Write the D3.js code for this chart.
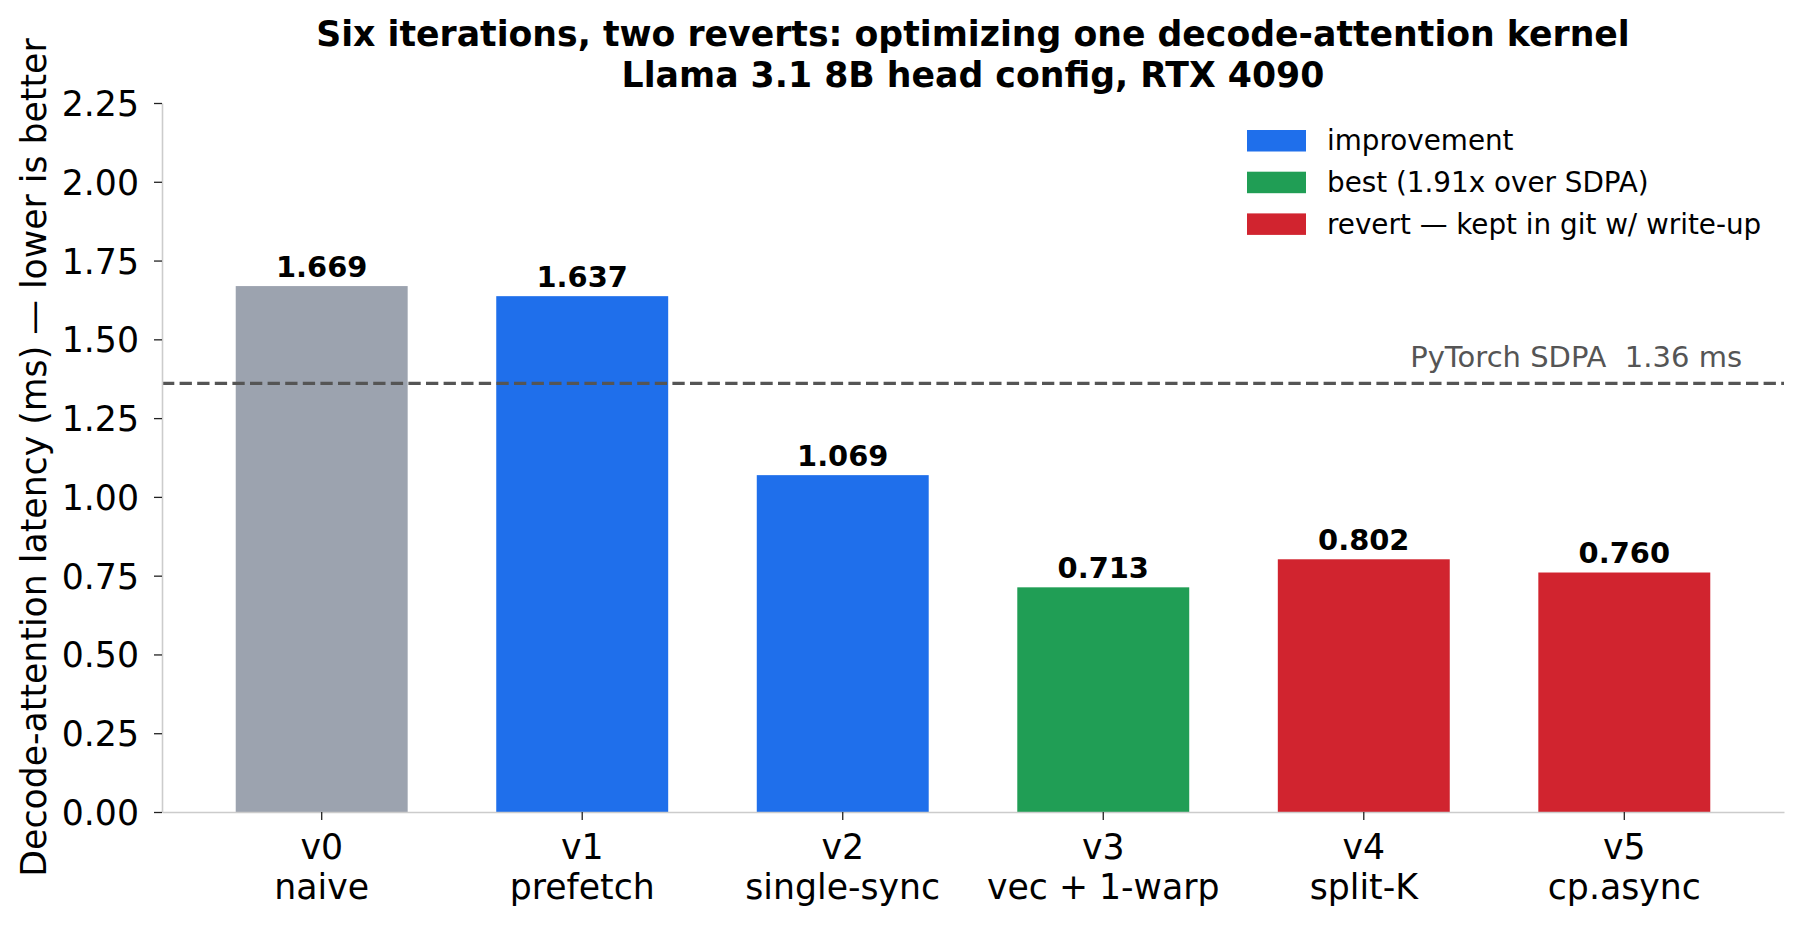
<!DOCTYPE html>
<html>
<head>
<meta charset="utf-8">
<script src="https://cdn.jsdelivr.net/npm/d3@7"></script>
<style>
  html, body { margin: 0; padding: 0; background: #fff; }
  svg { display: block; font-family: "DejaVu Sans", sans-serif; }
</style>
</head>
<body>
<main></main>
<script>
// chart data
const versions = ['v0', 'v1', 'v2', 'v3', 'v4', 'v5'];
const stepNames = ['naive', 'prefetch', 'single-sync', 'vec + 1-warp', 'split-K', 'cp.async'];
const latencyMs = [1.669, 1.637, 1.069, 0.713, 0.802, 0.760];
const kinds = ['baseline', 'improvement', 'improvement', 'best', 'revert', 'revert'];
const sdpaMs = 1.36;
const yTicks = [0, 0.25, 0.5, 0.75, 1.0, 1.25, 1.5, 1.75, 2.0, 2.25];
const legendKinds = ['improvement', 'best', 'revert'];
const legendLabels = ['improvement', 'best (1.91x over SDPA)', 'revert \u2014 kept in git w/ write-up'];
const titleLines = ['Six iterations, two reverts: optimizing one decode-attention kernel',
                    'Llama 3.1 8B head config, RTX 4090'];

const size = {width: 1804, height: 925};
const plot = {left: 162, right: 1784, top: 103, bottom: 812};

const colorOf = {
    baseline: '#9ca3af',
    improvement: '#1f6feb',
    best: '#209e55',
    revert: '#d1242f'
};

const svg = d3.select('main')
    .append('svg')
    .attr('width', size.width)
    .attr('height', size.height);

// scales
const x = d3.scaleBand()
    .domain(versions)
    .range([plot.left, plot.right])
    .paddingInner(0.34)
    .paddingOuter(0.283);

const y = d3.scaleLinear()
    .domain([0, 2.25])
    .range([plot.bottom, plot.top]);

// bars
svg.append('g')
    .selectAll('rect')
    .data(versions)
    .enter()
    .append('rect')
    .attr('x', d => x(d))
    .attr('width', x.bandwidth())
    .attr('y', (d, i) => y(latencyMs[i]))
    .attr('height', (d, i) => y(0) - y(latencyMs[i]))
    .attr('fill', (d, i) => colorOf[kinds[i]]);

// value labels above bars
svg.append('g')
    .selectAll('text')
    .data(versions)
    .enter()
    .append('text')
    .attr('x', d => x(d) + x.bandwidth() / 2)
    .attr('y', (d, i) => y(latencyMs[i]) - 9.5)
    .attr('text-anchor', 'middle')
    .attr('font-size', '28.9px')
    .attr('font-weight', 'bold')
    .attr('fill', '#000')
    .text((d, i) => d3.format('.3f')(latencyMs[i]));

// SDPA reference line
svg.append('line')
    .attr('x1', plot.left)
    .attr('x2', plot.right)
    .attr('y1', y(sdpaMs))
    .attr('y2', y(sdpaMs))
    .attr('stroke', '#555')
    .attr('stroke-width', 3.2)
    .attr('stroke-dasharray', '12.3,5.3');

svg.append('text')
    .attr('x', plot.right - 42)
    .attr('y', y(sdpaMs) - 16.7)
    .attr('text-anchor', 'end')
    .attr('font-size', '29px')
    .attr('fill', '#555')
    .attr('xml:space', 'preserve')
    .text('PyTorch SDPA  ' + sdpaMs.toFixed(2) + ' ms');

// axes
const yAxis = svg.append('g')
    .attr('transform', `translate(${plot.left},0)`)
    .call(d3.axisLeft(y)
        .tickValues(yTicks)
        .tickFormat(d3.format('.2f'))
        .tickSize(8)
        .tickSizeOuter(0)
        .tickPadding(15));

const xAxis = svg.append('g')
    .attr('transform', `translate(0,${plot.bottom})`)
    .call(d3.axisBottom(x)
        .tickSize(8)
        .tickSizeOuter(0)
        .tickPadding(0));

[yAxis, xAxis].forEach(g => {
    g.select('.domain').attr('stroke', '#cccccc').attr('stroke-width', 1.6);
    g.selectAll('.tick line').attr('stroke', '#222').attr('stroke-width', 1.3);
    g.selectAll('.tick text')
        .attr('font-family', '"DejaVu Sans", sans-serif')
        .attr('font-size', '34.7px')
        .attr('fill', '#000');
});

yAxis.selectAll('.tick text').attr('dy', '0.36em');

// two-line category labels
xAxis.selectAll('.tick text')
    .attr('y', 0)
    .attr('dy', null)
    .text(null)
    .each(function (d, i) {
        const t = d3.select(this);
        t.append('tspan').attr('x', 0).attr('y', 47).text(d);
        t.append('tspan').attr('x', 0).attr('y', 87).text(stepNames[i]);
    });

// y label
svg.append('text')
    .attr('transform', `translate(46,${(plot.top + plot.bottom) / 2}) rotate(-90)`)
    .attr('text-anchor', 'middle')
    .attr('font-size', '34.7px')
    .attr('fill', '#000')
    .text('Decode-attention latency (ms) \u2014 lower is better');

// title
const title = svg.append('text')
    .attr('text-anchor', 'middle')
    .attr('font-size', '34.7px')
    .attr('font-weight', 'bold')
    .attr('fill', '#000');
titleLines.forEach((line, i) => {
    title.append('tspan')
        .attr('x', (plot.left + plot.right) / 2)
        .attr('y', 46 + i * 41)
        .text(line);
});

// legend
const legend = svg.append('g')
    .selectAll('g')
    .data(legendKinds)
    .enter()
    .append('g')
    .attr('transform', (d, i) => `translate(1247,${130 + i * 41.7})`);

legend.append('rect')
    .attr('width', 59)
    .attr('height', 21.5)
    .attr('fill', d => colorOf[d]);

legend.append('text')
    .attr('x', 80)
    .attr('y', 10.75)
    .attr('dy', '0.34em')
    .attr('font-size', '27.8px')
    .attr('fill', '#000')
    .text((d, i) => legendLabels[i]);
</script>
</body>
</html>
